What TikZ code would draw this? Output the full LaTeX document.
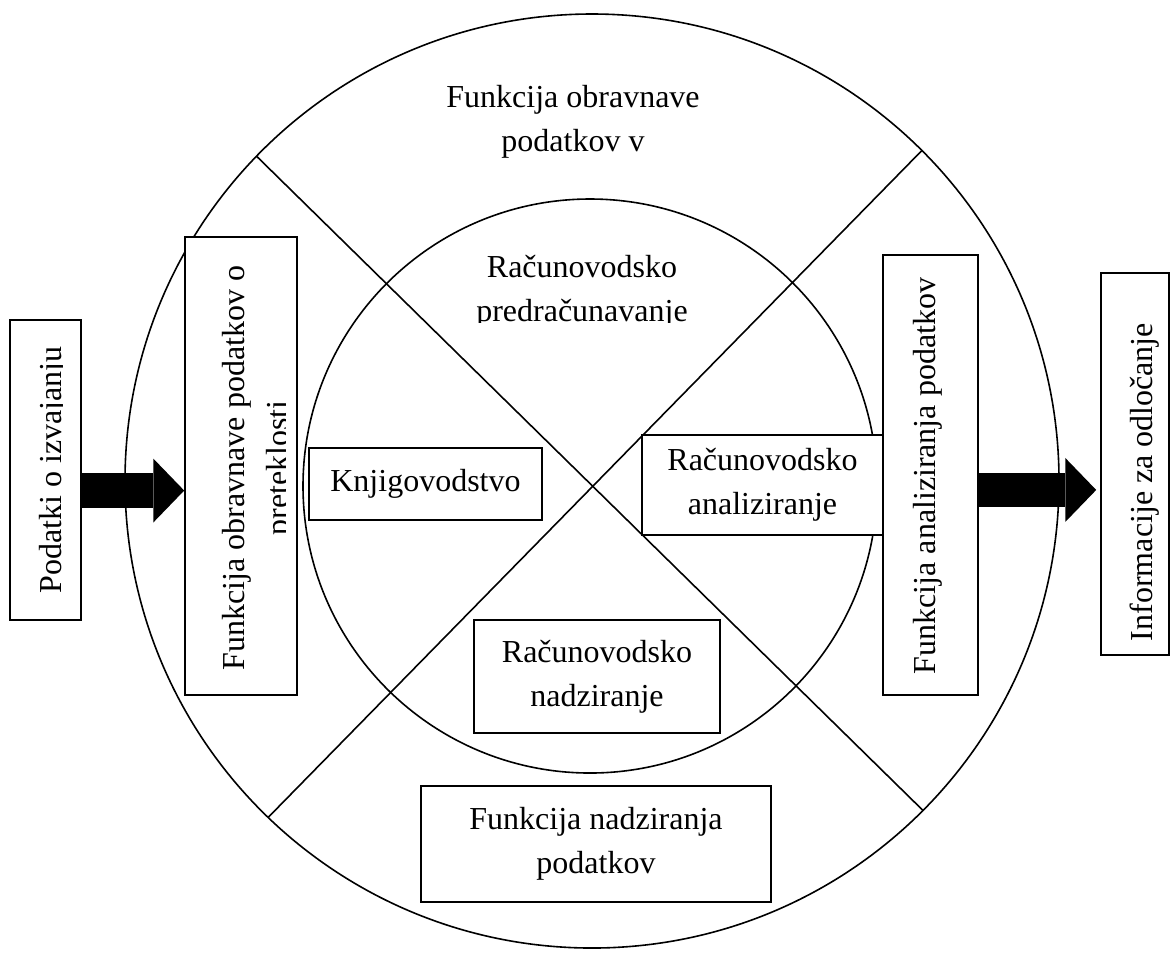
\documentclass[tikz,border=0pt]{standalone}
\usepackage{fontspec}
\setmainfont{Liberation Serif}
\usetikzlibrary{arrows.meta,positioning,calc}
\tikzset{
  fbox/.style={draw,fill=white,line width=0.6pt,inner sep=0pt,align=center,
               font=\fontsize{12}{16.5}\selectfont},
  ftxt/.style={inner sep=0pt,align=center,font=\fontsize{12}{16.5}\selectfont},
  vtxt/.style={ftxt,rotate=90},
  barr/.style={line width=13pt,
               -{Triangle[length=11.6pt,width=24pt,line width=0pt]}},
}
\begin{document}
\begin{tikzpicture}[x=0.375pt,y=-0.375pt,line width=0.6pt]
  \useasboundingbox (0,0) rectangle (1171,952);
  \draw (592,481) circle[radius=467];
  \draw (590,486) circle[radius=287];
  \begin{scope}
    \clip (592,481) circle[radius=467];
    \draw (237,137) -- (948,835);
    \draw (939,133) -- (246,840);
  \end{scope}
  \node[ftxt] (obravv) at (573,121.5) {Funkcija obravnave\\podatkov v};
  \begin{scope}
    \clip (400,200) rectangle (780,322);
    \node[ftxt] (predrac) at (582,291.5) {Računovodsko\\predračunavanje};
  \end{scope}
  \node[fbox,minimum width=26.6pt,minimum height=112.5pt] (podatki) at (45.5,470) {};
  \begin{scope}
    \clip (10,320) rectangle (62,620);
    \node[vtxt,anchor=base] (podatkitxt) at (61.5,470) {Podatki o izvajanju};
  \end{scope}
  \node[fbox,minimum width=42pt,minimum height=171.75pt] (obrav) at (241,466) {};
  \begin{scope}
    \clip (185,237) rectangle (285,695);
    \node[vtxt] (obravtxt) at (259,468) {Funkcija obravnave podatkov o\\preteklosti};
  \end{scope}
  \node[fbox,minimum width=35.6pt,minimum height=165pt] (analiz) at (930.5,475) {};
  \node[vtxt,anchor=base] (analiztxt) at (935,476) {Funkcija analiziranja podatkov};
  \node[fbox,minimum width=25.5pt,minimum height=143.25pt] (info) at (1135,464) {};
  \node[vtxt,anchor=base] (infotxt) at (1152,482) {Informacije za odločanje};
  \node[fbox,minimum width=87.4pt,minimum height=27pt] (knjig) at (425.5,484) {Knjigovodstvo};
  \node[fbox,minimum width=90.4pt,minimum height=37.5pt] (racanal) at (762.5,485) {Računovodsko\\analiziranje};
  \node[fbox,minimum width=92.25pt,minimum height=42.4pt] (racnadz) at (597,676.5) {Računovodsko\\nadziranje};
  \node[fbox,minimum width=131.25pt,minimum height=43.5pt] (funnadz) at (596,844) {Funkcija nadziranja\\podatkov};
  \draw[barr] ([yshift=-7.7pt]podatki.east) -- ([yshift=-7.7pt]podatki.east -| obrav.west);
  \draw[barr,shorten >=1.5pt] ([yshift=-5.6pt]analiz.east) -- ([yshift=-5.6pt]analiz.east -| info.west);
\end{tikzpicture}
\end{document}
